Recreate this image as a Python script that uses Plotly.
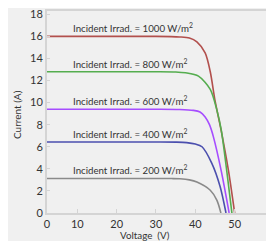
import plotly.graph_objects as go

# Irradiance levels (W/m^2)
irradiance = [1000, 800, 600, 400, 200]
colors = ["#b2504d", "#55ad4f", "#a64dff", "#4b4fae", "#8a8a8a"]

# I-V curves: voltage (V) and current (A)
v_1000 = [0, 10, 20, 30, 36, 38.5, 40.4, 42.5, 43.8, 45.0, 46.5, 48.4, 50.0]
i_1000 = [16.0, 16.0, 16.0, 16.0, 15.95, 15.85, 15.5, 14.5, 12.8, 10.2, 7.6, 3.9, 0.0]

v_800 = [0, 10, 20, 30, 35, 37.5, 40.8, 43.8, 45.5, 46.6, 48.0, 49.3]
i_800 = [12.8, 12.8, 12.8, 12.8, 12.78, 12.7, 12.4, 11.2, 9.3, 7.5, 3.8, 0.0]

v_600 = [0, 10, 20, 30, 36, 39.5, 41.2, 42.5, 43.6, 44.6, 46.6, 48.6]
i_600 = [9.4, 9.4, 9.4, 9.4, 9.38, 9.3, 9.15, 8.7, 8.0, 6.9, 3.8, 0.0]

v_400 = [0, 10, 20, 30, 35, 37.8, 40.0, 41.7, 44.2, 46.3, 47.8]
i_400 = [6.43, 6.43, 6.43, 6.43, 6.42, 6.38, 6.25, 6.0, 4.5, 2.4, 0.0]

v_200 = [0, 10, 20, 30, 34, 36.1, 38.5, 40.4, 43.8, 45.5, 46.5]
i_200 = [3.13, 3.13, 3.13, 3.13, 3.12, 3.1, 3.0, 2.8, 2.06, 1.15, 0.0]

voltages = [v_1000, v_800, v_600, v_400, v_200]
currents = [i_1000, i_800, i_600, i_400, i_200]

x_tick_vals = [2.3, 10, 20, 30, 40, 50, 60]
x_tick_text = ["0", "10", "20", "30", "40", "50", "60"]
y_tick_vals = [0, 2, 4, 6, 8, 10, 12, 14, 16, 18]

FONT = "Lato"
TEXT = "#333333"

fig = go.Figure()
for irr, col, v, i in zip(irradiance, colors, voltages, currents):
    fig.add_trace(go.Scatter(
        x=v, y=i, mode="lines", line=dict(color=col, width=1.6, shape="spline", smoothing=0.8),
        hoverinfo="skip", showlegend=False,
    ))
    fig.add_annotation(
        x=8.4, y=i[0], xref="x", yref="y", xanchor="left", yanchor="bottom", yshift=0,
        text=f"Incident Irrad. = {irr} W/m<sup>2</sup>", showarrow=False,
        font=dict(family=FONT, size=9.7, color=TEXT),
    )

# axis titles
fig.add_annotation(x=0, y=0.5, xref="paper", yref="paper", xshift=-30, yshift=-3,
                   xanchor="center", yanchor="middle",
                   text="Current (A)", textangle=-90, showarrow=False,
                   font=dict(family=FONT, size=10, color=TEXT))
fig.add_annotation(x=0.43, y=0, xref="paper", yref="paper", yshift=-22, xanchor="center", yanchor="middle",
                   text="Voltage  (V)", showarrow=False,
                   font=dict(family=FONT, size=9.8, color=TEXT))

# page body has an 8px margin, so the figure is sized to end at the window edge
fig.update_layout(
    width=266, height=233,
    margin=dict(l=39, r=0, t=3, b=28),
    paper_bgcolor="#f0f0f0", plot_bgcolor="#f0f0f0",
    font=dict(family=FONT, size=11, color=TEXT),
)
fig.update_xaxes(
    range=[2.3, 60], tickvals=x_tick_vals, ticktext=x_tick_text, automargin=False,
    showgrid=False, zeroline=False, showline=True, linecolor="#d4d4d4", linewidth=2, mirror=True,
    ticks="inside", ticklen=4, tickcolor="#d4d4d4", tickwidth=1,
    ticklabeloverflow="allow", tickfont=dict(size=11, color=TEXT),
)
fig.update_yaxes(
    range=[0, 18.3], tickvals=y_tick_vals, automargin=False,
    showgrid=False, zeroline=False, showline=True, linecolor="#d4d4d4", linewidth=2,
    ticks="inside", ticklen=3, tickcolor="#d4d4d4", tickwidth=1,
    ticklabeloverflow="allow", tickfont=dict(size=11, color=TEXT),
)

fig.write_html("out.html")
